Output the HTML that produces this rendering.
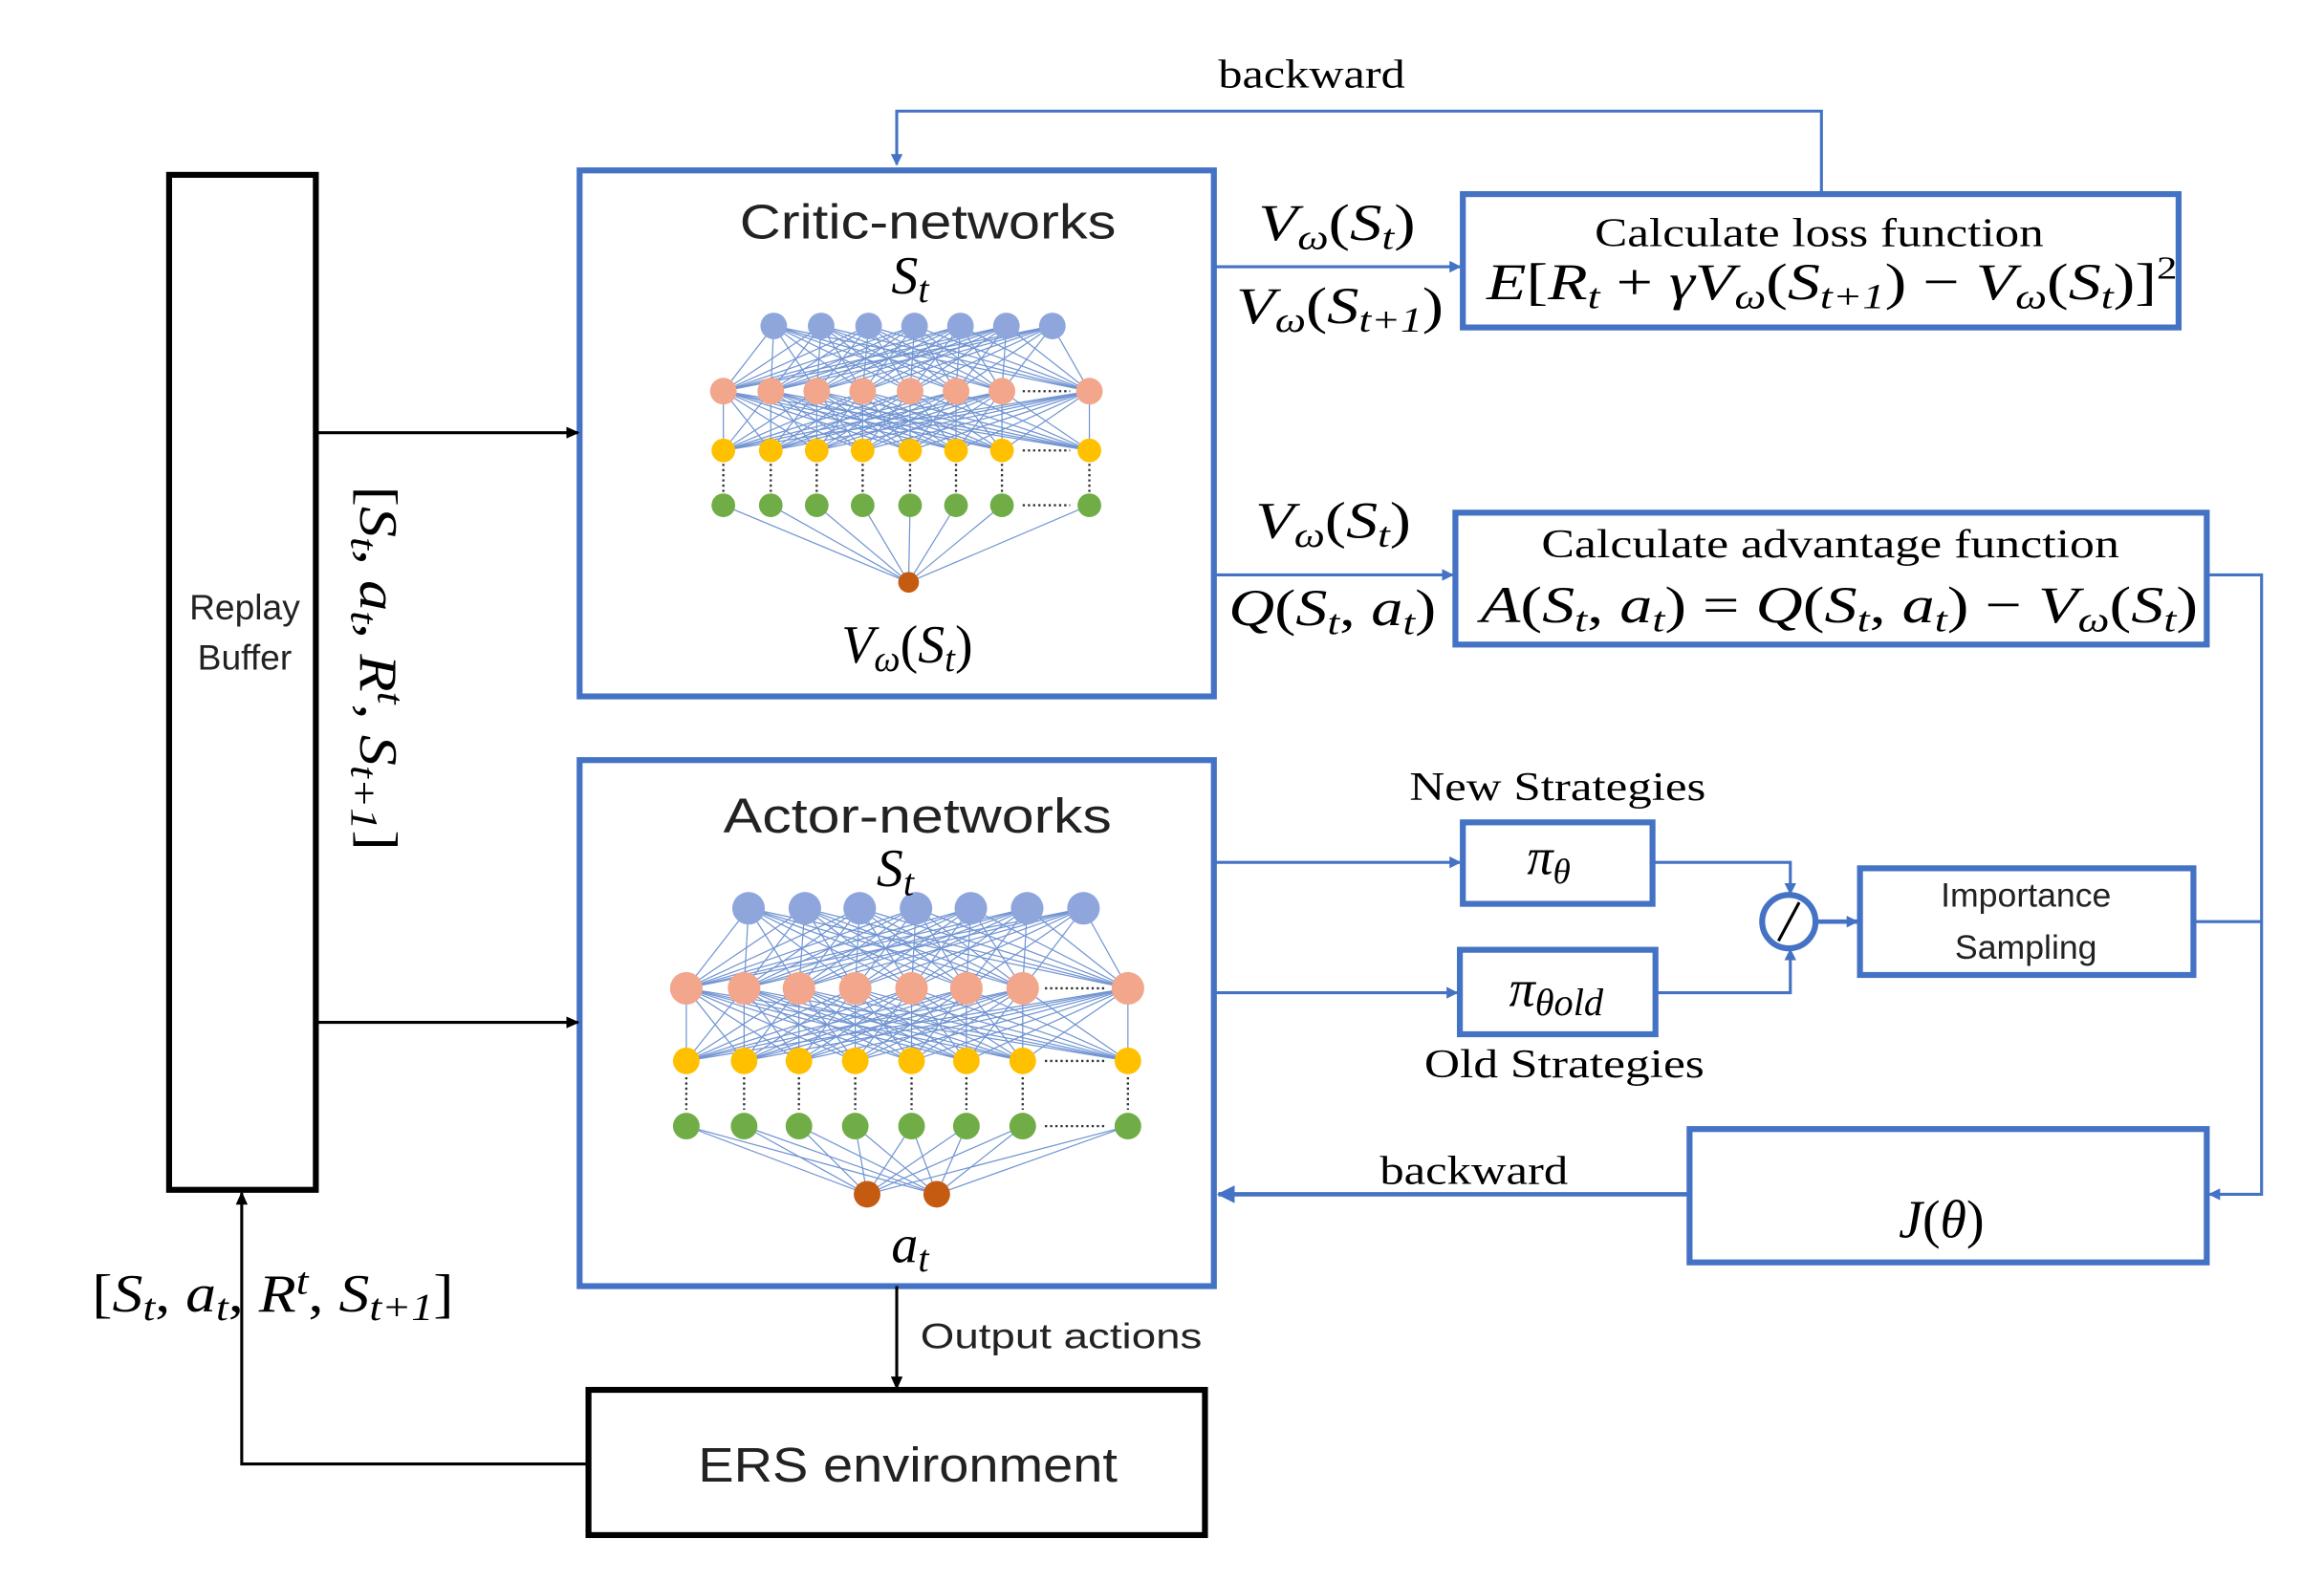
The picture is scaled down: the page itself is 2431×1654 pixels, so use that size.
<!DOCTYPE html>
<html><head><meta charset="utf-8"><style>
html,body{margin:0;padding:0;background:#fff}
svg{display:block}
.m{font-family:"Liberation Serif",serif;font-style:italic}
.s{font-family:"Liberation Serif",serif}
.a{font-family:"Liberation Sans","DejaVu Sans",sans-serif}
</style></head><body>
<svg id="d" width="2431" height="1654" viewBox="0 0 1568 1067" xmlns="http://www.w3.org/2000/svg">
<defs>
<marker id="ab" markerWidth="8" markerHeight="8" refX="7" refY="4" orient="auto" markerUnits="userSpaceOnUse"><path d="M0,0 L8,4 L0,8 z" fill="#4472C4"/></marker>
<marker id="ak" markerWidth="9" markerHeight="8" refX="8" refY="4" orient="auto" markerUnits="userSpaceOnUse"><path d="M0,0 L9,4 L0,8 z" fill="#000"/></marker>
<marker id="abl" markerWidth="12" markerHeight="12" refX="11" refY="6" orient="auto" markerUnits="userSpaceOnUse"><path d="M0,0 L12,6 L0,12 z" fill="#4472C4"/></marker>
</defs>
<rect width="1568" height="1067" fill="#fff"/>
<g fill="none" stroke-width="4">
<rect x="114" y="118" width="99" height="685" stroke="#000"/>
<rect x="391" y="115" width="428" height="355" stroke="#4472C4"/>
<rect x="391" y="513" width="428" height="355" stroke="#4472C4"/>
<rect x="987" y="131" width="483" height="90" stroke="#4472C4"/>
<rect x="982" y="346" width="507" height="89" stroke="#4472C4"/>
<rect x="987" y="555" width="128" height="55" stroke="#4472C4"/>
<rect x="985" y="641" width="132" height="57" stroke="#4472C4"/>
<rect x="1255" y="586" width="225" height="72" stroke="#4472C4"/>
<rect x="1140" y="762" width="349" height="90" stroke="#4472C4"/>
<rect x="397" y="938" width="416" height="98" stroke="#000"/>
</g>
<g id="net"></g>
<g fill="none" stroke="#4472C4" stroke-width="2">
<polyline points="1229,129 1229,75 605,75 605,111" marker-end="url(#ab)"/>
<line x1="819" y1="180" x2="985" y2="180" marker-end="url(#ab)"/>
<line x1="819" y1="388" x2="980" y2="388" marker-end="url(#ab)"/>
<line x1="819" y1="582" x2="985" y2="582" marker-end="url(#ab)"/>
<line x1="819" y1="670" x2="983" y2="670" marker-end="url(#ab)"/>
<polyline points="1115,582 1208,582 1208,603" marker-end="url(#ab)"/>
<polyline points="1117,670 1208,670 1208,641" marker-end="url(#ab)"/>
<circle cx="1207" cy="622" r="18" stroke-width="4"/>
<line x1="1225" y1="622" x2="1253" y2="622" stroke-width="3" marker-end="url(#ab)"/>
<polyline points="1489,388 1526,388 1526,806 1491,806" marker-end="url(#ab)"/>
<line x1="1480" y1="622" x2="1526" y2="622"/>
<line x1="1140" y1="806" x2="822" y2="806" stroke-width="3" marker-end="url(#abl)"/>
</g>
<line x1="1200" y1="635" x2="1214" y2="609" stroke="#000" stroke-width="2"/>
<g fill="none" stroke="#000" stroke-width="2">
<line x1="213" y1="292" x2="390" y2="292" marker-end="url(#ak)"/>
<line x1="213" y1="690" x2="390" y2="690" marker-end="url(#ak)"/>
<line x1="605" y1="868" x2="605" y2="937" marker-end="url(#ak)"/>
<polyline points="397,988 163,988 163,805" marker-end="url(#ak)"/>
</g>
<!-- text -->
<text x="822" y="59" class="s" font-size="27" textLength="126" lengthAdjust="spacingAndGlyphs">backward</text>
<text x="931" y="799" class="s" font-size="27" textLength="127" lengthAdjust="spacingAndGlyphs">backward</text>
<text x="499" y="161" class="a" font-size="33" fill="#222" textLength="254" lengthAdjust="spacingAndGlyphs">Critic-networks</text>
<text x="614" y="198" class="m" font-size="36" text-anchor="middle">S<tspan font-size="26" dy="6">t</tspan></text>
<text x="612" y="447" class="m" font-size="36" text-anchor="middle">V<tspan font-size="25" dy="6">ω</tspan><tspan dy="-6" font-style="normal">(</tspan>S<tspan font-size="25" dy="6">t</tspan><tspan dy="-6" font-style="normal">)</tspan></text>
<text x="488" y="562" class="a" font-size="33" fill="#222" textLength="262" lengthAdjust="spacingAndGlyphs">Actor-networks</text>
<text x="604" y="598" class="m" font-size="36" text-anchor="middle">S<tspan font-size="26" dy="6">t</tspan></text>
<text x="614" y="852" class="m" font-size="36" text-anchor="middle">a<tspan font-size="26" dy="6">t</tspan></text>
<text x="165" y="418" class="a" font-size="24" text-anchor="middle" fill="#222">Replay</text>
<text x="165" y="452" class="a" font-size="24" text-anchor="middle" fill="#222">Buffer</text>
<text transform="translate(243,328) rotate(90)" class="m" font-size="36" textLength="246" lengthAdjust="spacingAndGlyphs"><tspan font-style="normal">[</tspan>S<tspan font-size="26" dy="6">t</tspan><tspan dy="-6" font-style="normal">, </tspan>a<tspan font-size="26" dy="6">t</tspan><tspan dy="-6" font-style="normal">, </tspan>R<tspan font-size="26" dy="-12">t</tspan><tspan dy="12" font-style="normal">, </tspan>S<tspan font-size="26" dy="6">t+1</tspan><tspan dy="-6" font-style="normal">]</tspan></text>
<text x="62" y="885" class="m" font-size="36" textLength="244" lengthAdjust="spacingAndGlyphs"><tspan font-style="normal">[</tspan>S<tspan font-size="26" dy="6">t</tspan><tspan dy="-6" font-style="normal">, </tspan>a<tspan font-size="26" dy="6">t</tspan><tspan dy="-6" font-style="normal">, </tspan>R<tspan font-size="26" dy="-12">t</tspan><tspan dy="12" font-style="normal">, </tspan>S<tspan font-size="26" dy="6">t+1</tspan><tspan dy="-6" font-style="normal">]</tspan></text>
<text x="849" y="162" class="m" font-size="35" textLength="106" lengthAdjust="spacingAndGlyphs">V<tspan font-size="24" dy="6">ω</tspan><tspan dy="-6" font-style="normal">(</tspan>S<tspan font-size="24" dy="6">t</tspan><tspan dy="-6" font-style="normal">)</tspan></text>
<text x="834" y="218" class="m" font-size="35" textLength="140" lengthAdjust="spacingAndGlyphs">V<tspan font-size="24" dy="6">ω</tspan><tspan dy="-6" font-style="normal">(</tspan>S<tspan font-size="24" dy="6">t+1</tspan><tspan dy="-6" font-style="normal">)</tspan></text>
<text x="847" y="363" class="m" font-size="35" textLength="105" lengthAdjust="spacingAndGlyphs">V<tspan font-size="24" dy="6">ω</tspan><tspan dy="-6" font-style="normal">(</tspan>S<tspan font-size="24" dy="6">t</tspan><tspan dy="-6" font-style="normal">)</tspan></text>
<text x="829" y="422" class="m" font-size="35" textLength="140" lengthAdjust="spacingAndGlyphs">Q<tspan font-style="normal">(</tspan>S<tspan font-size="24" dy="6">t</tspan><tspan dy="-6" font-style="normal">, </tspan>a<tspan font-size="24" dy="6">t</tspan><tspan dy="-6" font-style="normal">)</tspan></text>
<text x="1076" y="166" class="s" font-size="27" textLength="303" lengthAdjust="spacingAndGlyphs">Calculate loss function</text>
<text x="1003" y="202" class="m" font-size="35" textLength="466" lengthAdjust="spacingAndGlyphs">E<tspan font-style="normal">[</tspan>R<tspan font-size="24" dy="6">t</tspan><tspan dy="-6" font-style="normal"> + </tspan>γV<tspan font-size="24" dy="6">ω</tspan><tspan dy="-6" font-style="normal">(</tspan>S<tspan font-size="24" dy="6">t+1</tspan><tspan dy="-6" font-style="normal">) − </tspan>V<tspan font-size="24" dy="6">ω</tspan><tspan dy="-6" font-style="normal">(</tspan>S<tspan font-size="24" dy="6">t</tspan><tspan dy="-6" font-style="normal">)]</tspan><tspan font-size="22" dy="-14" font-style="normal">2</tspan></text>
<text x="1040" y="376" class="s" font-size="27" textLength="390" lengthAdjust="spacingAndGlyphs">Calculate advantage function</text>
<text x="999" y="420" class="m" font-size="35" textLength="484" lengthAdjust="spacingAndGlyphs">A<tspan font-style="normal">(</tspan>S<tspan font-size="24" dy="6">t</tspan><tspan dy="-6" font-style="normal">, </tspan>a<tspan font-size="24" dy="6">t</tspan><tspan dy="-6" font-style="normal">) = </tspan>Q<tspan font-style="normal">(</tspan>S<tspan font-size="24" dy="6">t</tspan><tspan dy="-6" font-style="normal">, </tspan>a<tspan font-size="24" dy="6">t</tspan><tspan dy="-6" font-style="normal">) − </tspan>V<tspan font-size="24" dy="6">ω</tspan><tspan dy="-6" font-style="normal">(</tspan>S<tspan font-size="24" dy="6">t</tspan><tspan dy="-6" font-style="normal">)</tspan></text>
<text x="951" y="540" class="s" font-size="27" textLength="200" lengthAdjust="spacingAndGlyphs">New Strategies</text>
<text x="961" y="727" class="s" font-size="27" textLength="189" lengthAdjust="spacingAndGlyphs">Old  Strategies</text>
<text x="1045" y="590" class="m" font-size="35" text-anchor="middle">π<tspan font-size="24" dy="6">θ</tspan></text>
<text x="1050" y="679" class="m" font-size="35" text-anchor="middle">π<tspan font-size="26" dy="6">θold</tspan></text>
<text x="1367" y="612" class="a" font-size="23" text-anchor="middle" fill="#222">Importance</text>
<text x="1367" y="647" class="a" font-size="23" text-anchor="middle" fill="#222">Sampling</text>
<text x="1310" y="835" class="m" font-size="36" text-anchor="middle">J<tspan font-style="normal">(</tspan>θ<tspan font-style="normal">)</tspan></text>
<text x="621" y="910" class="a" font-size="24" fill="#222" textLength="190" lengthAdjust="spacingAndGlyphs">Output actions</text>
<text x="471" y="1000" class="a" font-size="33" fill="#222" textLength="283" lengthAdjust="spacingAndGlyphs">ERS environment</text>
</svg>
<script>
(function(){
var g=document.getElementById('net'),h='';
function net(top,sal,yel,grn,outs,rt,rh,yt,salX,topX,dotX){
 var L='';
 topX.forEach(function(a){salX.forEach(function(b){L+='<line x1="'+a+'" y1="'+top+'" x2="'+b+'" y2="'+sal+'"/>';});});
 salX.forEach(function(a){salX.forEach(function(b){L+='<line x1="'+a+'" y1="'+sal+'" x2="'+b+'" y2="'+yel+'"/>';});});
 salX.forEach(function(a){outs.forEach(function(o){L+='<line x1="'+a+'" y1="'+grn+'" x2="'+o[0]+'" y2="'+o[1]+'"/>';});});
 h+='<g stroke="#4472C4" stroke-width="0.8" opacity="0.75">'+L+'</g>';
 var D='';
 salX.forEach(function(a){D+='<line x1="'+a+'" y1="'+(yel+rh)+'" x2="'+a+'" y2="'+(grn-rh)+'"/>';});
 [sal,yel,grn].forEach(function(y){D+='<line x1="'+dotX[0]+'" y1="'+y+'" x2="'+dotX[1]+'" y2="'+y+'"/>';});
 h+='<g stroke="#333" stroke-width="1.5" stroke-dasharray="1.5,2">'+D+'</g>';
 topX.forEach(function(x){h+='<circle cx="'+x+'" cy="'+top+'" r="'+rt+'" fill="#8FA6DC"/>';});
 salX.forEach(function(x){h+='<circle cx="'+x+'" cy="'+sal+'" r="'+rh+'" fill="#F2A68C"/>';});
 salX.forEach(function(x){h+='<circle cx="'+x+'" cy="'+yel+'" r="'+yt+'" fill="#FFC000"/>';});
 salX.forEach(function(x){h+='<circle cx="'+x+'" cy="'+grn+'" r="'+yt+'" fill="#70AD47"/>';});
 outs.forEach(function(o){h+='<circle cx="'+o[0]+'" cy="'+o[1]+'" r="'+o[2]+'" fill="#C55A11"/>';});
}
net(220,264,304,341,[[613,393,7]],9,9,8,[488,520,551,582,614,645,676,735],[522,554,586,617,648,679,710],[690,722]);
net(613,667,716,760,[[585,806,9],[632,806,9]],11,11,9,[463,502,539,577,615,652,690,761],[505,543,580,618,655,693,731],[705,745]);
g.innerHTML=h;
})();
</script>
</body></html>
